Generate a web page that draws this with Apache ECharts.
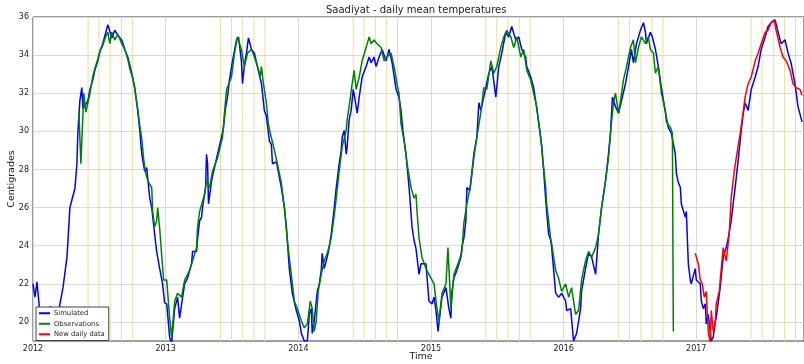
<!DOCTYPE html>
<html>
<head>
<meta charset="utf-8">
<script src="https://cdn.jsdelivr.net/npm/echarts@6/dist/echarts.min.js"></script>
<style>
  html, body { margin: 0; padding: 0; background: #ffffff; }
  #chart { width: 804px; height: 364px; }
</style>
</head>
<body>
<div id="chart"></div>
<script>
// Daily mean temperature at Saadiyat, x = decimal year, y = degrees C
const simulated = [
  [2012.000,22.0],[2012.015,21.3],[2012.030,22.1],[2012.045,21.0],[2012.053,19.9],[2012.068,19.2],
  [2012.075,19.0],[2012.090,19.3],[2012.105,19.8],[2012.120,20.6],[2012.128,20.8],[2012.150,20.7],
  [2012.165,20.6],[2012.188,20.3],[2012.203,20.95],[2012.218,21.5],[2012.226,21.8],[2012.241,22.6],
  [2012.256,23.4],[2012.263,24.2],[2012.278,26.0],[2012.293,26.4],[2012.308,26.4],[2012.316,27.0],
  [2012.331,28.3],[2012.338,29.9],[2012.353,31.6],[2012.368,32.3],[2012.376,31.2],[2012.391,31.1],
  [2012.414,31.6],[2012.429,32.2],[2012.451,32.7],[2012.466,33.2],[2012.489,33.7],[2012.504,34.2],
  [2012.526,34.6],[2012.549,35.2],[2012.564,35.6],[2012.579,35.7],[2012.594,34.9],[2012.617,35.3],
  [2012.639,35.05],[2012.669,34.8],[2012.692,34.3],[2012.714,33.9],[2012.729,33.5],[2012.752,32.8],
  [2012.767,32.3],[2012.789,31.1],[2012.805,30.05],[2012.820,28.8],[2012.842,27.9],[2012.857,28.1],
  [2012.880,26.5],[2012.895,26.0],[2012.917,24.6],[2012.932,23.7],[2012.955,22.8],[2012.977,22.0],
  [2012.992,21.0],[2013.008,20.95],[2013.030,19.2],[2013.045,18.9],[2013.068,20.7],[2013.090,21.3],
  [2013.105,20.2],[2013.128,21.3],[2013.143,22.0],[2013.165,22.3],[2013.195,23.05],[2013.203,23.7],
  [2013.233,23.7],[2013.241,24.4],[2013.256,25.3],[2013.271,25.5],[2013.278,26.0],[2013.301,27.05],
  [2013.308,28.8],[2013.316,28.3],[2013.323,26.2],[2013.346,27.4],[2013.368,28.1],[2013.391,28.8],
  [2013.421,29.7],[2013.436,30.2],[2013.451,31.2],[2013.466,31.8],[2013.481,32.7],[2013.504,33.7],
  [2013.534,34.8],[2013.549,34.95],[2013.571,33.7],[2013.579,32.5],[2013.594,33.5],[2013.609,34.1],
  [2013.624,34.9],[2013.647,34.3],[2013.669,34.1],[2013.692,33.4],[2013.722,32.5],[2013.744,31.1],
  [2013.759,30.8],[2013.782,29.5],[2013.797,29.3],[2013.805,28.3],[2013.835,28.4],[2013.850,28.5],
  [2013.872,27.05],[2013.895,26.0],[2013.910,25.0],[2013.917,24.3],[2013.932,22.8],[2013.955,21.5],
  [2013.985,20.6],[2014.008,20.05],[2014.023,19.4],[2014.045,19.0],[2014.068,19.0],[2014.083,20.4],
  [2014.098,20.7],[2014.105,19.4],[2014.120,20.05],[2014.143,21.6],[2014.158,22.0],[2014.173,22.7],
  [2014.180,23.6],[2014.195,22.8],[2014.218,23.4],[2014.233,23.9],[2014.248,24.6],[2014.271,26.0],
  [2014.286,27.05],[2014.308,28.3],[2014.323,29.0],[2014.331,29.7],[2014.346,30.05],[2014.361,28.8],
  [2014.368,29.2],[2014.383,30.6],[2014.398,31.1],[2014.414,32.2],[2014.429,31.6],[2014.444,30.95],
  [2014.459,31.8],[2014.481,32.85],[2014.511,33.4],[2014.534,33.9],[2014.549,33.6],[2014.571,33.9],
  [2014.586,33.4],[2014.609,33.9],[2014.632,34.3],[2014.662,33.7],[2014.684,34.3],[2014.707,33.6],
  [2014.737,32.2],[2014.759,31.8],[2014.774,31.1],[2014.789,30.0],[2014.812,28.8],[2014.835,27.05],
  [2014.857,25.0],[2014.872,24.3],[2014.887,23.85],[2014.910,22.5],[2014.925,23.05],[2014.962,23.05],
  [2014.985,21.1],[2015.008,20.95],[2015.023,21.3],[2015.038,20.6],[2015.053,19.5],[2015.068,19.4],
  [2015.083,21.3],[2015.113,21.8],[2015.135,20.7],[2015.150,20.2],[2015.158,21.6],[2015.173,22.3],
  [2015.195,22.7],[2015.226,23.4],[2015.233,23.9],[2015.248,24.4],[2015.263,25.3],[2015.271,27.05],
  [2015.293,26.9],[2015.301,27.4],[2015.323,28.8],[2015.346,29.7],[2015.361,31.5],[2015.376,31.1],
  [2015.414,32.3],[2015.436,33.05],[2015.459,33.4],[2015.489,31.8],[2015.511,33.4],[2015.534,34.1],
  [2015.564,35.2],[2015.586,34.95],[2015.609,35.5],[2015.639,34.8],[2015.662,34.95],[2015.684,34.3],
  [2015.714,33.9],[2015.722,33.4],[2015.752,32.85],[2015.774,32.3],[2015.789,31.6],[2015.812,30.5],
  [2015.827,29.7],[2015.835,29.2],[2015.850,27.9],[2015.865,26.4],[2015.872,25.8],[2015.887,24.6],
  [2015.902,24.3],[2015.910,23.9],[2015.940,21.5],[2015.962,21.3],[2015.985,21.5],[2016.015,21.1],
  [2016.023,20.6],[2016.053,20.7],[2016.075,19.0],[2016.098,19.4],[2016.128,20.7],[2016.135,21.6],
  [2016.165,22.8],[2016.188,23.6],[2016.211,23.4],[2016.241,22.5],[2016.256,23.9],[2016.263,24.6],
  [2016.286,26.0],[2016.316,27.4],[2016.338,28.8],[2016.353,29.9],[2016.368,31.8],[2016.391,31.3],
  [2016.414,30.95],[2016.436,31.6],[2016.466,32.5],[2016.489,33.4],[2016.511,34.3],[2016.526,33.6],
  [2016.549,34.6],[2016.579,35.3],[2016.602,35.7],[2016.617,35.2],[2016.624,34.6],[2016.654,35.2],
  [2016.669,34.95],[2016.692,34.3],[2016.714,33.4],[2016.737,32.3],[2016.767,31.0],[2016.789,30.2],
  [2016.812,29.9],[2016.842,28.8],[2016.850,27.8],[2016.865,27.3],[2016.880,27.05],[2016.887,26.2],
  [2016.917,25.5],[2016.925,25.8],[2016.932,24.5],[2016.940,23.05],[2016.955,22.2],[2016.962,22.0],
  [2016.992,22.8],[2017.000,22.2],[2017.030,22.0],[2017.038,21.1],[2017.053,20.7],[2017.068,20.95],
  [2017.075,19.9],[2017.090,20.4],[2017.113,19.0],[2017.128,19.2],[2017.143,20.05],[2017.150,20.2],
  [2017.180,21.8],[2017.203,23.4],[2017.226,23.9],[2017.241,24.4],[2017.263,25.3],[2017.278,26.2],
  [2017.293,27.05],[2017.316,28.5],[2017.338,30.0],[2017.353,30.9],[2017.368,31.5],[2017.391,31.1],
  [2017.414,32.2],[2017.444,32.85],[2017.466,33.4],[2017.489,34.3],[2017.519,34.95],[2017.541,35.5],
  [2017.564,35.7],[2017.594,35.85],[2017.617,35.2],[2017.639,34.6],[2017.669,34.8],[2017.692,34.1],
  [2017.714,33.6],[2017.744,32.5],[2017.767,31.3],[2017.797,30.5]
];

const observations = [
  [2012.346,31.0],[2012.361,28.3],[2012.368,29.5],[2012.383,32.0],[2012.398,31.0],[2012.414,31.5],
  [2012.429,32.0],[2012.451,32.9],[2012.466,33.3],[2012.489,33.8],[2012.504,34.2],[2012.526,34.5],
  [2012.549,35.0],[2012.564,35.2],[2012.579,34.6],[2012.594,35.2],[2012.617,34.8],[2012.639,35.1],
  [2012.669,34.6],[2012.692,34.3],[2012.714,33.8],[2012.729,33.3],[2012.752,32.8],[2012.767,32.2],
  [2012.789,31.2],[2012.805,30.3],[2012.820,29.6],[2012.835,28.5],[2012.850,27.8],[2012.865,27.4],
  [2012.895,27.05],[2012.902,25.8],[2012.917,25.0],[2012.932,25.3],[2012.940,26.0],[2012.955,24.9],
  [2012.970,23.5],[2012.985,22.2],[2013.008,22.2],[2013.030,20.2],[2013.045,19.2],[2013.068,21.1],
  [2013.090,21.5],[2013.120,21.3],[2013.143,22.2],[2013.180,22.7],[2013.203,23.2],[2013.233,23.9],
  [2013.241,25.0],[2013.256,25.8],[2013.293,26.7],[2013.308,27.4],[2013.331,27.05],[2013.353,27.9],
  [2013.391,28.6],[2013.429,29.7],[2013.444,31.0],[2013.459,32.2],[2013.496,32.85],[2013.519,34.1],
  [2013.541,34.95],[2013.571,34.3],[2013.594,33.4],[2013.617,34.1],[2013.647,34.3],[2013.669,33.9],
  [2013.692,33.4],[2013.714,32.9],[2013.722,33.4],[2013.737,32.5],[2013.759,31.5],[2013.774,30.4],
  [2013.789,29.9],[2013.820,29.0],[2013.842,28.3],[2013.872,27.3],[2013.895,26.0],[2013.917,24.3],
  [2013.947,22.5],[2013.970,21.1],[2013.992,20.7],[2014.023,20.05],[2014.045,19.7],[2014.068,19.9],
  [2014.090,21.1],[2014.105,20.7],[2014.120,19.5],[2014.135,20.05],[2014.150,21.6],[2014.173,22.5],
  [2014.195,23.2],[2014.218,23.6],[2014.248,24.4],[2014.271,25.6],[2014.286,26.5],[2014.308,27.9],
  [2014.331,29.2],[2014.361,30.05],[2014.368,30.6],[2014.383,31.3],[2014.406,32.5],[2014.421,33.2],
  [2014.436,32.2],[2014.459,32.85],[2014.481,33.7],[2014.511,34.4],[2014.534,34.95],[2014.549,34.6],
  [2014.571,34.8],[2014.594,34.6],[2014.624,34.4],[2014.647,33.7],[2014.669,33.9],[2014.699,34.1],
  [2014.722,33.4],[2014.744,32.5],[2014.759,32.0],[2014.774,30.4],[2014.797,29.5],[2014.820,28.3],
  [2014.850,27.05],[2014.872,26.5],[2014.887,26.7],[2014.895,25.8],[2014.910,24.4],[2014.932,23.4],
  [2014.962,22.8],[2015.000,22.3],[2015.023,22.0],[2015.045,20.7],[2015.060,20.05],[2015.083,21.5],
  [2015.113,22.0],[2015.128,23.9],[2015.150,20.7],[2015.173,22.5],[2015.211,23.2],[2015.233,23.7],
  [2015.248,25.2],[2015.271,26.2],[2015.301,27.3],[2015.323,28.6],[2015.346,29.7],[2015.376,31.0],
  [2015.398,32.3],[2015.421,32.2],[2015.451,33.7],[2015.474,33.05],[2015.496,33.4],[2015.526,34.4],
  [2015.549,34.95],[2015.571,35.3],[2015.602,34.95],[2015.624,34.4],[2015.647,34.95],[2015.677,33.9],
  [2015.699,34.3],[2015.722,33.2],[2015.752,32.7],[2015.774,32.0],[2015.797,31.3],[2015.812,30.4],
  [2015.835,29.2],[2015.842,28.6],[2015.865,27.05],[2015.872,26.2],[2015.887,25.3],[2015.902,24.4],
  [2015.910,24.1],[2015.940,22.7],[2015.962,22.3],[2015.985,21.6],[2016.015,22.0],[2016.038,21.3],
  [2016.060,21.8],[2016.090,20.4],[2016.113,20.6],[2016.135,22.2],[2016.165,23.2],[2016.188,23.7],
  [2016.211,23.4],[2016.241,23.9],[2016.263,24.6],[2016.286,26.0],[2016.316,27.4],[2016.338,28.6],
  [2016.361,30.5],[2016.376,31.5],[2016.391,32.0],[2016.414,30.95],[2016.429,31.6],[2016.451,32.7],
  [2016.474,33.4],[2016.504,34.4],[2016.526,34.8],[2016.541,33.6],[2016.564,34.4],[2016.586,34.95],
  [2016.617,34.6],[2016.639,34.95],[2016.654,34.3],[2016.677,34.1],[2016.692,33.05],[2016.714,33.4],
  [2016.737,32.0],[2016.767,31.1],[2016.774,30.5],[2016.805,30.2],[2016.820,29.9],[2016.827,19.5]
];

const newDailyData = [
  [2016.992,23.6],[2017.015,23.05],[2017.030,22.2],[2017.045,22.0],[2017.060,21.3],[2017.075,21.6],
  [2017.090,19.5],[2017.105,18.9],[2017.113,20.6],[2017.128,19.5],[2017.143,19.9],[2017.150,20.95],
  [2017.173,21.6],[2017.188,22.8],[2017.203,23.9],[2017.226,23.2],[2017.248,24.6],[2017.263,26.5],
  [2017.286,27.9],[2017.301,28.6],[2017.331,29.9],[2017.353,31.0],[2017.368,31.8],[2017.391,32.5],
  [2017.414,32.85],[2017.444,33.7],[2017.466,34.1],[2017.489,34.6],[2017.519,35.2],[2017.541,35.3],
  [2017.564,35.7],[2017.586,35.85],[2017.602,35.3],[2017.632,34.4],[2017.654,33.9],[2017.677,33.7],
  [2017.707,33.2],[2017.729,32.5],[2017.752,32.3],[2017.782,32.2],[2017.797,31.9]
];

// Vertical reference lines: first day of June to October in each year
const markerYears = [2012, 2013, 2014, 2015, 2016, 2017];
const markerMonths = [6, 7, 8, 9, 10];

const seriesNames = ['Simulated', 'Observations', 'New daily data'];
const seriesColors = ['#0000ff', '#008000', '#ff0000'];

const Y_MIN = 19, Y_MAX = 36;
const X_MIN = 2012, X_MAX = 2017.812;

function decimalYear(y, m) {
  const start = Date.UTC(y, 0, 1);
  const end = Date.UTC(y + 1, 0, 1);
  return y + (Date.UTC(y, m - 1, 1) - start) / (end - start);
}

const markerData = [];
markerYears.forEach(function (y) {
  markerMonths.forEach(function (m) {
    const x = decimalYear(y, m);
    markerData.push([x, Y_MIN], [x, Y_MAX], [x, '-']);
  });
});

const FONT = '"DejaVu Sans", sans-serif';
const chart = echarts.init(document.getElementById('chart'), null, { renderer: 'canvas' });

function lineSeries(name, data, color, z) {
  return {
    name: name,
    type: 'line',
    data: data,
    z: z,
    showSymbol: false,
    symbol: 'none',
    clip: true,
    animation: false,
    lineStyle: { color: color, width: 1.5 },
    itemStyle: { color: color }
  };
}

chart.setOption({
  animation: false,
  backgroundColor: '#ffffff',
  grid: { left: 33, top: 17, right: -2, bottom: 23, show: true, borderColor: '#3a3a3a', borderWidth: 1, backgroundColor: 'transparent', z: 0 },
  xAxis: {
    type: 'value',
    min: X_MIN,
    max: X_MAX,
    interval: 1,
    axisLine: { show: false },
    axisTick: { show: false },
    axisLabel: {
      margin: 4,
      color: '#222',
      fontFamily: FONT,
      fontSize: 8,
      showMaxLabel: false,
      formatter: function (v) { return Number.isInteger(v) ? String(v) : ''; }
    },
    splitLine: { show: true, lineStyle: { color: '#d9d9d9', width: 1 } }
  },
  yAxis: {
    type: 'value',
    min: Y_MIN,
    max: Y_MAX,
    interval: 1,
    axisLine: { show: false },
    axisTick: { show: false },
    axisLabel: {
      margin: 4,
      color: '#222',
      fontFamily: FONT,
      fontSize: 8,
      formatter: function (v) { return v % 2 === 0 ? String(v) : ''; }
    },
    splitLine: { show: true, lineStyle: { color: ['rgba(0,0,0,0)', '#d9d9d9'], width: 1 } }
  },
  legend: {
    data: seriesNames,
    orient: 'vertical',
    left: 36,
    top: 307,
    padding: [2, 4, 2, 3],
    itemGap: 2,
    itemWidth: 11,
    itemHeight: 2,
    icon: 'rect',
    backgroundColor: '#ffffff',
    borderColor: '#444',
    borderWidth: 1,
    borderRadius: 0,
    textStyle: { fontFamily: FONT, fontSize: 6.8, color: '#222', lineHeight: 8.5, padding: [0, 0, 0, -1] }
  },
  graphic: [
    { type: 'text', left: 419 - 93, top: 5, style: { text: 'Saadiyat - daily mean temperatures', font: '10px "DejaVu Sans", sans-serif', fill: '#222' } },
    { type: 'text', x: 12, y: 179, rotation: Math.PI / 2, style: { text: 'Centigrades', font: '9.5px "DejaVu Sans", sans-serif', fill: '#222', align: 'center', verticalAlign: 'middle' } },
    { type: 'text', x: 421, y: 357, style: { text: 'Time', font: '9.5px "DejaVu Sans", sans-serif', fill: '#222', align: 'center', verticalAlign: 'middle' } }
  ],
  series: [
    {
      name: 'months',
      type: 'line',
      data: markerData,
      z: 1,
      showSymbol: false,
      symbol: 'none',
      connectNulls: false,
      silent: true,
      animation: false,
      lineStyle: { color: '#e4e0a0', width: 1 }
    },
    lineSeries(seriesNames[0], simulated, seriesColors[0], 2),
    lineSeries(seriesNames[1], observations, seriesColors[1], 3),
    lineSeries(seriesNames[2], newDailyData, seriesColors[2], 4)
  ]
});
</script>
</body>
</html>
